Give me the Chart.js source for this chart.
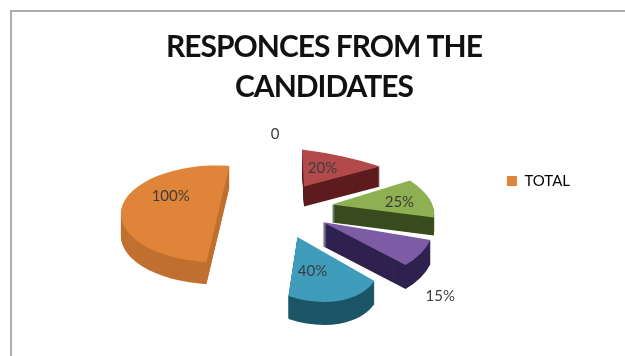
<!DOCTYPE html>
<html><head><meta charset="utf-8">
<style>
html,body{margin:0;padding:0;background:#fff;width:625px;height:356px;overflow:hidden}
#wrap{position:relative;width:625px;height:356px}
canvas{position:absolute;left:0;top:0;filter:blur(0.45px)}
#frame{position:absolute;left:10px;top:10px;width:640px;height:380px;border:2px solid #adadad;box-sizing:border-box}
</style>
<script src="https://cdn.jsdelivr.net/npm/chart.js@4"></script>
</head><body>
<div id="wrap"><div id="frame"></div><canvas id="c" width="625" height="356"></canvas></div>
<script>
const categories = ['0', '20%', '25%', '15%', '40%', '100%'];
const totals = [0, 20, 25, 15, 40, 100];
const seriesName = 'TOTAL';
const titleLines = ['RESPONCES FROM THE', 'CANDIDATES'];

const topColors = ['#4f81bd', '#b24a4c', '#8fb052', '#7b5ca5', '#3f9cbb', '#e08439'];
const sideColors = ['#2a4a70', '#5d1c1f', '#394c1f', '#30224f', '#1d5568', '#c07030'];

// look of the exploded 3-D pie: how far each slice is pulled out, and how the
// view distorts its two straight edges (screen vectors from the slice's apex)
const explode = [0, 68, 62, 48, 45, 58];
const viewStartEdge = [null, [-2, -37], [78, -24], [108, 18], [77, 44], null];
const viewEndEdge = [null, [76, -20], [102, 13], [83, 43], [-9, 59], null];
const halfPieScale = 0.97;
const depth = [0, 20, 18, 24, 23, 22];
const squash = 0.5;
const labelRadial = [1.66, 0.44, 0.7, 1.17, 0.535, 0.485];
const labelNudge = [[-20, -0.5], [0, 1.5], [4, 12.5], [3, 62.5], [-11, 10.5], [1, -14.5]];

function midAngle(el) { return (el.startAngle + el.endAngle) / 2; }

function viewMatrix(el, i) {
  const R = el.outerRadius;
  if (!viewStartEdge[i]) return [halfPieScale, 0, 0, halfPieScale * squash];
  const u1 = [Math.cos(el.startAngle), Math.sin(el.startAngle)];
  const u2 = [Math.cos(el.endAngle), Math.sin(el.endAngle)];
  const det = u1[0] * u2[1] - u2[0] * u1[1];
  const inv = [u2[1] / det, -u2[0] / det, -u1[1] / det, u1[0] / det];
  const e1 = viewStartEdge[i], e2 = viewEndEdge[i];
  return [
    (e1[0] * inv[0] + e2[0] * inv[2]) / R, (e1[1] * inv[0] + e2[1] * inv[2]) / R,
    (e1[0] * inv[1] + e2[0] * inv[3]) / R, (e1[1] * inv[1] + e2[1] * inv[3]) / R
  ];
}

const pie3d = {
  id: 'pie3d',
  afterLayout(chart) {
    const lg = chart.legend;
    const shift = 6.5;
    lg.top += shift; lg.bottom += shift;
    const t = chart.titleBlock;
    if (!t._tightened) {
      const drawTitle = t.draw;
      t.draw = function () {
        chart.ctx.letterSpacing = '-1px';
        drawTitle.apply(t, arguments);
        chart.ctx.letterSpacing = '0px';
      };
      t._tightened = true;
    }
  },
  beforeDatasetsDraw(chart) {
    const ctx = chart.ctx;
    const arcs = chart.getDatasetMeta(0).data;
    const paint = (el, i, dy, color) => {
      const a = midAngle(el), cx = el.x, cy = el.y;
      const m = viewMatrix(el, i);
      ctx.save();
      ctx.translate(cx + Math.cos(a) * explode[i], cy + Math.sin(a) * explode[i] * squash + dy);
      ctx.transform(m[0], m[1], m[2], m[3], 0, 0);
      ctx.translate(-cx, -cy);
      const o = el.options, keep = o.backgroundColor;
      o.backgroundColor = color;
      el.draw(ctx);
      o.backgroundColor = keep;
      ctx.restore();
    };
    [1, 2, 5, 3, 4].forEach(i => {
      for (let d = depth[i]; d > 0; d--) paint(arcs[i], i, d, sideColors[i]);
      paint(arcs[i], i, 0, topColors[i]);
    });
    ctx.save();
    ctx.font = '15px Lato';
    ctx.textAlign = 'center';
    ctx.textBaseline = 'middle';
    ctx.fillStyle = '#3c3c3c';
    arcs.forEach((el, i) => {
      const a = midAngle(el);
      const rho = explode[i] + el.outerRadius * labelRadial[i];
      const x = el.x + Math.cos(a) * rho + labelNudge[i][0];
      const y = el.y + Math.sin(a) * rho * squash + labelNudge[i][1];
      ctx.fillText(categories[i], x, y);
    });
    ctx.restore();
    return false;
  }
};

new Chart(document.getElementById('c'), {
  type: 'pie',
  data: {
    labels: categories,
    datasets: [{ label: seriesName, data: totals, backgroundColor: topColors, borderWidth: 0 }]
  },
  options: {
    responsive: false,
    animation: false,
    rotation: 6.8,
    radius: 100,
    layout: { padding: { left: 68, right: 45, top: 27, bottom: 34 } },
    plugins: {
      tooltip: { enabled: false },
      title: {
        display: true,
        text: titleLines,
        color: '#111',
        font: { family: 'Lato', weight: 'bold', size: 30, lineHeight: 1.33 },
        padding: { top: 0, bottom: 6 }
      },
      legend: {
        display: true,
        position: 'right',
        labels: {
          boxWidth: 10, boxHeight: 10, padding: 24,
          color: '#444',
          font: { family: 'Lato', size: 15 },
          generateLabels: () => [{ text: seriesName, fillStyle: topColors[5], strokeStyle: topColors[5], lineWidth: 0, hidden: false, index: 0 }]
        }
      }
    }
  },
  plugins: [pie3d]
});
</script>
</body></html>
